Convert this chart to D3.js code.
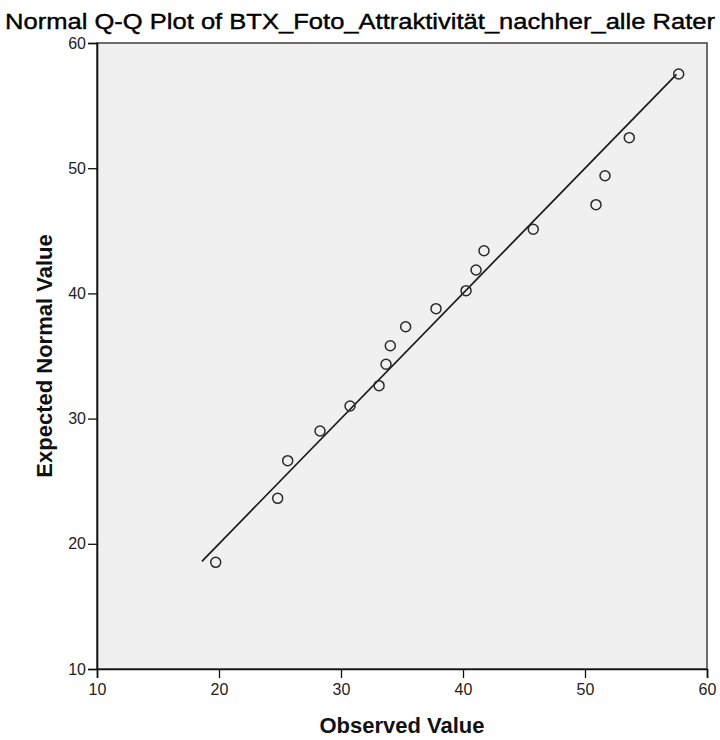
<!DOCTYPE html>
<html>
<head>
<meta charset="utf-8">
<script src="https://cdn.jsdelivr.net/npm/d3@7"></script>
<style>
  html, body { margin: 0; padding: 0; background: #ffffff; }
  svg { display: block; }
</style>
</head>
<body>
<svg id="chart" width="720" height="740"></svg>
<script>
// Observed values (x) and their expected normal quantiles (y)
const observed = [19.73, 24.81, 25.63, 28.28, 30.74, 33.12, 33.69, 34.04, 35.30,
                  37.79, 40.25, 41.07, 41.72, 45.76, 50.90, 51.64, 53.63, 57.68];
const expected = [18.52, 23.63, 26.64, 29.01, 31.01, 32.63, 34.34, 35.82, 37.34,
                  38.78, 40.22, 41.87, 43.41, 45.12, 47.09, 49.40, 52.44, 57.52];
// Reference line y = x, spanning the expected-value range
const refLine = [18.6, 57.5];
const xTicks = [10, 20, 30, 40, 50, 60];
const yTicks = [10, 20, 30, 40, 50, 60];
const xDomain = [10, 60];
const yDomain = [10, 60];
const titleText = "Normal Q-Q Plot of BTX_Foto_Attraktivität_nachher_alle Rater";
const xTitle = "Observed Value";
const yTitle = "Expected Normal Value";

const svg = d3.select("#chart");
const plot = { left: 97, right: 707, top: 43, bottom: 669 };

const x = d3.scaleLinear().domain(xDomain).range([plot.left, plot.right]);
const y = d3.scaleLinear().domain(yDomain).range([plot.bottom, plot.top]);

// Plot background
svg.append("rect")
  .attr("x", plot.left).attr("y", plot.top)
  .attr("width", plot.right - plot.left).attr("height", plot.bottom - plot.top)
  .attr("fill", "#f0f0f0")
  .attr("stroke", "#4a4a4a").attr("stroke-width", 1.6);

// Axes
const font = "'Liberation Sans', Arial, sans-serif";
const xAxis = svg.append("g")
  .attr("transform", `translate(0,${plot.bottom})`)
  .call(d3.axisBottom(x).tickValues(xTicks).tickSize(9).tickPadding(6).tickFormat(d3.format("d")));
const yAxis = svg.append("g")
  .attr("transform", `translate(${plot.left},0)`)
  .call(d3.axisLeft(y).tickValues(yTicks).tickSize(9).tickPadding(2).tickFormat(d3.format("d")));

[xAxis, yAxis].forEach(g => {
  g.select(".domain").attr("stroke", "#111").attr("stroke-width", 1.6);
  g.selectAll(".tick line").attr("stroke", "#111").attr("stroke-width", 1.3);
  g.selectAll(".tick text")
    .attr("fill", "#222")
    .style("font-family", font)
    .style("font-size", "16px");
});

// Reference line
svg.append("line")
  .attr("x1", x(refLine[0])).attr("y1", y(refLine[0]))
  .attr("x2", x(refLine[1])).attr("y2", y(refLine[1]))
  .attr("stroke", "#1a1a1a").attr("stroke-width", 1.7);

// Points
svg.append("g").selectAll("circle")
  .data(observed.map((v, i) => [v, expected[i]]))
  .join("circle")
  .attr("cx", d => x(d[0]))
  .attr("cy", d => y(d[1]))
  .attr("r", 5)
  .attr("fill", "none")
  .attr("stroke", "#2a2a2a")
  .attr("stroke-width", 1.5);

// Title
svg.append("text")
  .attr("x", 360).attr("y", 29)
  .attr("text-anchor", "middle")
  .attr("textLength", 710)
  .attr("lengthAdjust", "spacingAndGlyphs")
  .style("font-family", font)
  .style("font-size", "22px")
  .attr("fill", "#000")
  .attr("stroke", "#000")
  .attr("stroke-width", 0.4)
  .text(titleText);

// Axis titles
svg.append("text")
  .attr("x", 402).attr("y", 733)
  .attr("text-anchor", "middle")
  .style("font-family", font)
  .style("font-size", "22px")
  .style("font-weight", "bold")
  .attr("fill", "#111")
  .text(xTitle);

svg.append("text")
  .attr("transform", `translate(52,${(plot.top + plot.bottom) / 2}) rotate(-90)`)
  .attr("text-anchor", "middle")
  .style("font-family", font)
  .style("font-size", "22px")
  .style("font-weight", "bold")
  .attr("fill", "#111")
  .text(yTitle);
</script>
</body>
</html>
